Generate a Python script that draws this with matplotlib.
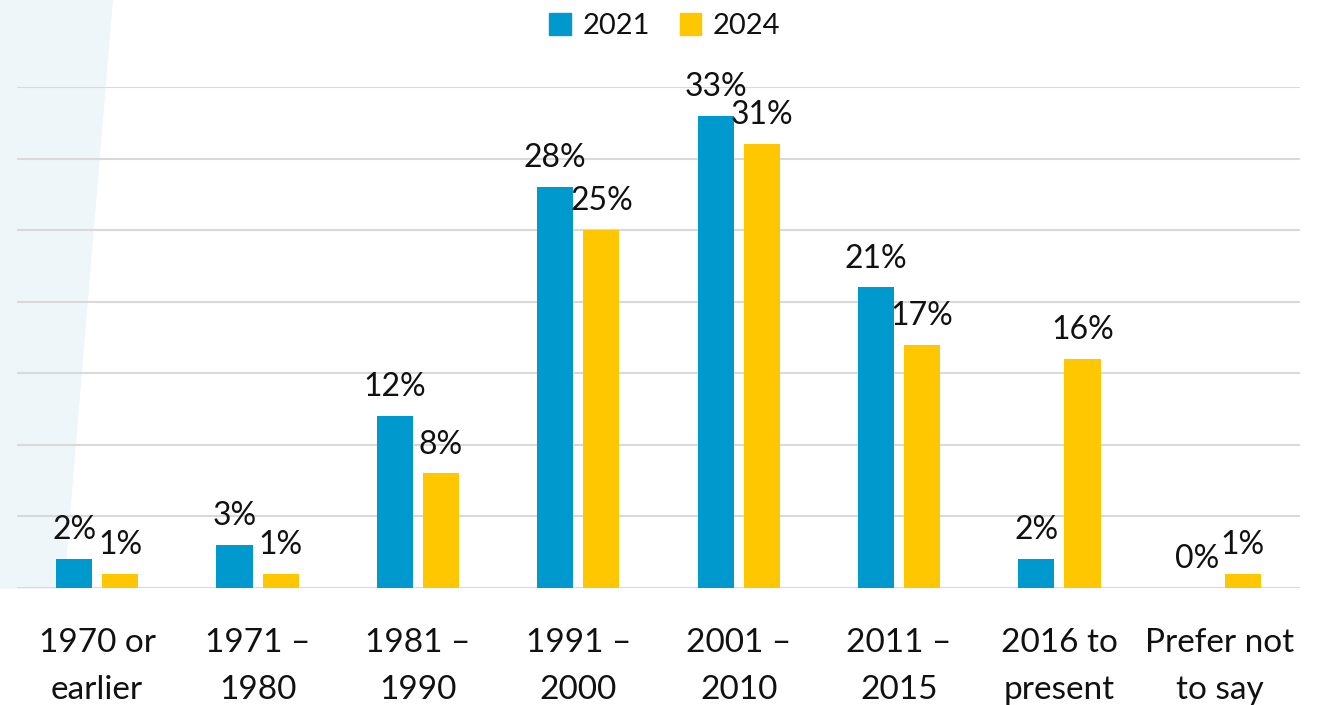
#!/usr/bin/env python3
"""Grouped bar chart: share of respondents by period, 2021 vs 2024."""

import matplotlib
matplotlib.use("Agg")
import matplotlib.pyplot as plt
import numpy as np
from matplotlib.patches import Polygon, Rectangle

categories = ["1970 or\nearlier", "1971 –\n1980", "1981 –\n1990", "1991 –\n2000",
              "2001 –\n2010", "2011 –\n2015", "2016 to\npresent", "Prefer not\nto say"]
values_2021 = [2, 3, 12, 28, 33, 21, 2, 0]
values_2024 = [1, 1, 8, 25, 31, 17, 16, 1]
series_names = ["2021", "2024"]

BLUE = "#0099CE"
YELLOW = "#FFC700"
GRID = "#D9D9D9"
FONT = ["Lato", "DejaVu Sans"]

plt.rcParams["font.family"] = FONT

W, H = 1319, 705
fig = plt.figure(figsize=(W / 100, H / 100), dpi=100)

# light background sliver on the left, behind everything
fig.patches.append(Polygon([(0, 1), (113 / W, 1), (64 / W, 1 - 589 / H), (0, 1 - 589 / H)],
                           closed=True, transform=fig.transFigure,
                           facecolor="#EEF6FA", edgecolor="none", zorder=-5))

ax = fig.add_axes([17 / W, 1 - 588 / H, (1300 - 17) / W, (588 - 87) / H])
ax.patch.set_alpha(0)

x = np.arange(len(categories))
width = 0.225
offset = 0.144

bars1 = ax.bar(x - offset, values_2021, width, color=BLUE, zorder=3)
bars2 = ax.bar(x + offset, values_2024, width, color=YELLOW, zorder=3)

for bars, vals in ((bars1, values_2021), (bars2, values_2024)):
    for b, v in zip(bars, vals):
        ax.annotate(f"{v}%", (b.get_x() + b.get_width() / 2, v),
                    xytext=(0, 10), textcoords="offset points",
                    ha="center", va="bottom", fontsize=23, color="#111111",
                    annotation_clip=False, zorder=4)

ax.set_xlim(-0.5, 7.5)
ax.set_ylim(0, 35)
ax.set_yticks(np.arange(0, 36, 5))
ax.yaxis.grid(True, color=GRID, linewidth=1.5, zorder=0)
ax.set_axisbelow(True)
ax.tick_params(axis="y", left=False, labelleft=False)
ax.tick_params(axis="x", bottom=False, pad=25)
ax.set_xticks(x)
ax.set_xticklabels(categories, fontsize=24, color="#111111", linespacing=1.72)
for s in ax.spines.values():
    s.set_visible(False)

# legend
handles = [Rectangle((0, 0), 1, 1, color=BLUE), Rectangle((0, 0), 1, 1, color=YELLOW)]
fig.legend(handles, series_names, loc="center", bbox_to_anchor=(665 / W, 1 - 26 / H),
           ncol=2, frameon=False, fontsize=21, handlelength=0.75, handleheight=0.75,
           handletextpad=0.4, columnspacing=1.0, labelcolor="#111111")

fig.savefig("out.png", dpi=100)
